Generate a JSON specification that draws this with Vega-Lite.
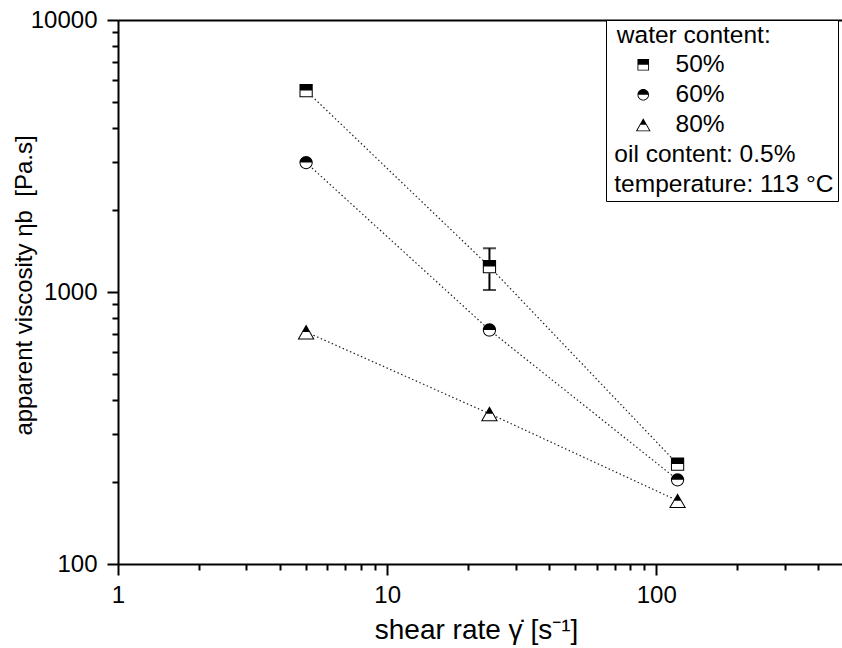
{
  "$schema": "https://vega.github.io/schema/vega-lite/v6.json",
  "width": 724,
  "height": 544,
  "autosize": {"type": "none"},
  "padding": {"left": 118, "top": 20, "right": 0, "bottom": 84},
  "background": "white",
  "config": {
    "font": "Liberation Sans",
    "view": {"stroke": null},
    "axis": {"grid": false, "domainColor": "black", "tickColor": "black", "labelColor": "black", "titleColor": "black", "labelFont": "Liberation Sans", "titleFont": "Liberation Sans", "titleFontWeight": "normal", "labelFlush": false, "labelOverlap": false}
  },
  "datasets": {
    "visc": [
      {"rate": 5, "eta": 5500, "water": "50%"},
      {"rate": 24, "eta": 1240, "water": "50%"},
      {"rate": 120, "eta": 233, "water": "50%"},
      {"rate": 5, "eta": 2990, "water": "60%"},
      {"rate": 24, "eta": 725, "water": "60%"},
      {"rate": 120, "eta": 204, "water": "60%"},
      {"rate": 5, "eta": 713, "water": "80%"},
      {"rate": 24, "eta": 357, "water": "80%"},
      {"rate": 120, "eta": 171, "water": "80%"}
    ],
    "err": [{"rate": 24, "lo": 1017, "hi": 1448}]
  },
  "resolve": {"scale": {"shape": "independent"}, "axis": {"x": "independent", "y": "independent"}},
  "layer": [
    {
      "data": {"name": "visc"},
      "mark": {"type": "line", "strokeDash": [1.5, 2.5], "strokeWidth": 1.2, "color": "#222222"},
      "encoding": {
        "x": {"field": "rate", "type": "quantitative", "scale": {"type": "log", "domain": [1, 490], "nice": false},
              "axis": {"orient": "bottom", "values": [2,3,4,5,6,7,8,9,20,30,40,50,60,70,80,90,200,300,400], "labels": false, "tickSize": 6, "tickWidth": 2, "domain": false, "title": null}},
        "y": {"field": "eta", "type": "quantitative", "scale": {"type": "log", "domain": [100, 10000], "nice": false},
              "axis": {"orient": "left", "values": [200,300,400,500,600,700,800,900,2000,3000,4000,5000,6000,7000,8000,9000], "labels": false, "tickSize": 6, "tickWidth": 2, "domain": false, "title": null}},
        "detail": {"field": "water"}
      }
    },
    {
      "data": {"name": "err"},
      "mark": {"type": "errorbar", "ticks": true, "color": "black", "thickness": 2, "size": 13},
      "encoding": {
        "x": {"field": "rate", "type": "quantitative",
              "axis": {"orient": "top", "domain": true, "domainWidth": 2, "ticks": false, "labels": false, "title": null}},
        "y": {"field": "lo", "type": "quantitative", "axis": null},
        "y2": {"field": "hi"}
      }
    },
    {
      "data": {"name": "visc"},
      "mark": {"type": "point", "filled": true, "fill": "white", "strokeWidth": 0, "size": 289, "opacity": 1},
      "encoding": {
        "x": {"field": "rate", "type": "quantitative", "axis": null},
        "y": {"field": "eta", "type": "quantitative", "axis": null},
        "shape": {"field": "water", "type": "nominal", "legend": null,
          "scale": {"domain": ["50%", "60%", "80%"], "range": [
            "M-0.78,-0.78H0.78V0.78H-0.78Z",
            "M-0.78,0C-0.78,-0.4308,-0.4308,-0.78,0,-0.78C0.4308,-0.78,0.78,-0.4308,0.78,0C0.78,0.4308,0.4308,0.78,0,0.78C-0.4308,0.78,-0.78,0.4308,-0.78,0Z",
            "M0,-0.88L1,0.88H-1Z"]}}
      }
    },
    {
      "data": {"name": "visc"},
      "mark": {"type": "point", "filled": true, "fill": "black", "strokeWidth": 0, "size": 289, "opacity": 1},
      "encoding": {
        "x": {"field": "rate", "type": "quantitative",
              "axis": {"orient": "bottom", "values": [1, 10, 100], "format": "d", "tickSize": 11, "tickWidth": 2, "domainWidth": 2, "labelFontSize": 24, "labelPadding": 8,
                       "title": "shear rate γ̇ [s⁻¹]", "titleFontSize": 28, "titleBaseline": "alphabetic", "titleY": 74, "titleX": 358}},
        "y": {"field": "eta", "type": "quantitative",
              "axis": {"orient": "left", "values": [100, 1000, 10000], "format": "d", "tickSize": 11, "tickWidth": 2, "domainWidth": 2, "labelFontSize": 24, "labelPadding": 10,
                       "title": "apparent viscosity ηb\u00a0\u00a0[Pa.s]", "titleFontSize": 24, "titleAngle": 270, "titleBaseline": "alphabetic", "titleAlign": "center", "titleX": -87, "titleY": 265}},
        "shape": {"field": "water", "type": "nominal",
          "scale": {"domain": ["50%", "60%", "80%", "oil content: 0.5%", "temperature: 113 °C"], "range": [
            "M-0.78,-0.78H0.78V0H-0.78Z M-0.78,0H0.78V0.78H-0.78Z M-0.66,0V0.66H0.66V0Z",
            "M-0.78,0C-0.78,-0.4308,-0.4308,-0.78,0,-0.78C0.4308,-0.78,0.78,-0.4308,0.78,0Z M-0.78,0C-0.78,0.4308,-0.4308,0.78,0,0.78C0.4308,0.78,0.78,0.4308,0.78,0L0.66,0C0.66,0.3645,0.3645,0.66,0,0.66C-0.3645,0.66,-0.66,0.3645,-0.66,0Z",
            "M0,-0.88L0.5,0H-0.5Z M-0.5,0H0.5L1,0.88H-1Z M-0.362,0L-0.794,0.76H0.794L0.362,0Z",
            "M0,0",
            "M0,0"]},
          "legend": {
            "orient": "none", "legendX": 488, "legendY": 0,
            "title": "\u200b\u00a0water content:", "titleFontSize": 24.5, "titleFont": "Liberation Sans", "titleFontWeight": "normal", "titleColor": "black", "titlePadding": 4, "titleAnchor": "start",
            "labelFontSize": 24.5, "labelFont": "Liberation Sans", "labelColor": "black", "labelLimit": 0,
            "labelExpr": "length(datum.label) <= 3 ? '\u200b\u00a0\u00a0\u00a0\u00a0\u00a0\u00a0\u00a0\u00a0\u00a0\u00a0' + datum.label : '\u200b\u00a0' + datum.label",
            "symbolSize": 220, "symbolOffset": 21, "labelOffset": -48, "rowPadding": 5, "padding": 4,
            "symbolFillColor": "black", "symbolStrokeWidth": 0,
            "strokeColor": "black", "fillColor": "white",
            "encode": {"symbols": {"fill": {"value": "black"}, "strokeWidth": {"value": 0}, "opacity": {"value": 1}}}
          }}
      }
    }
  ]
}
